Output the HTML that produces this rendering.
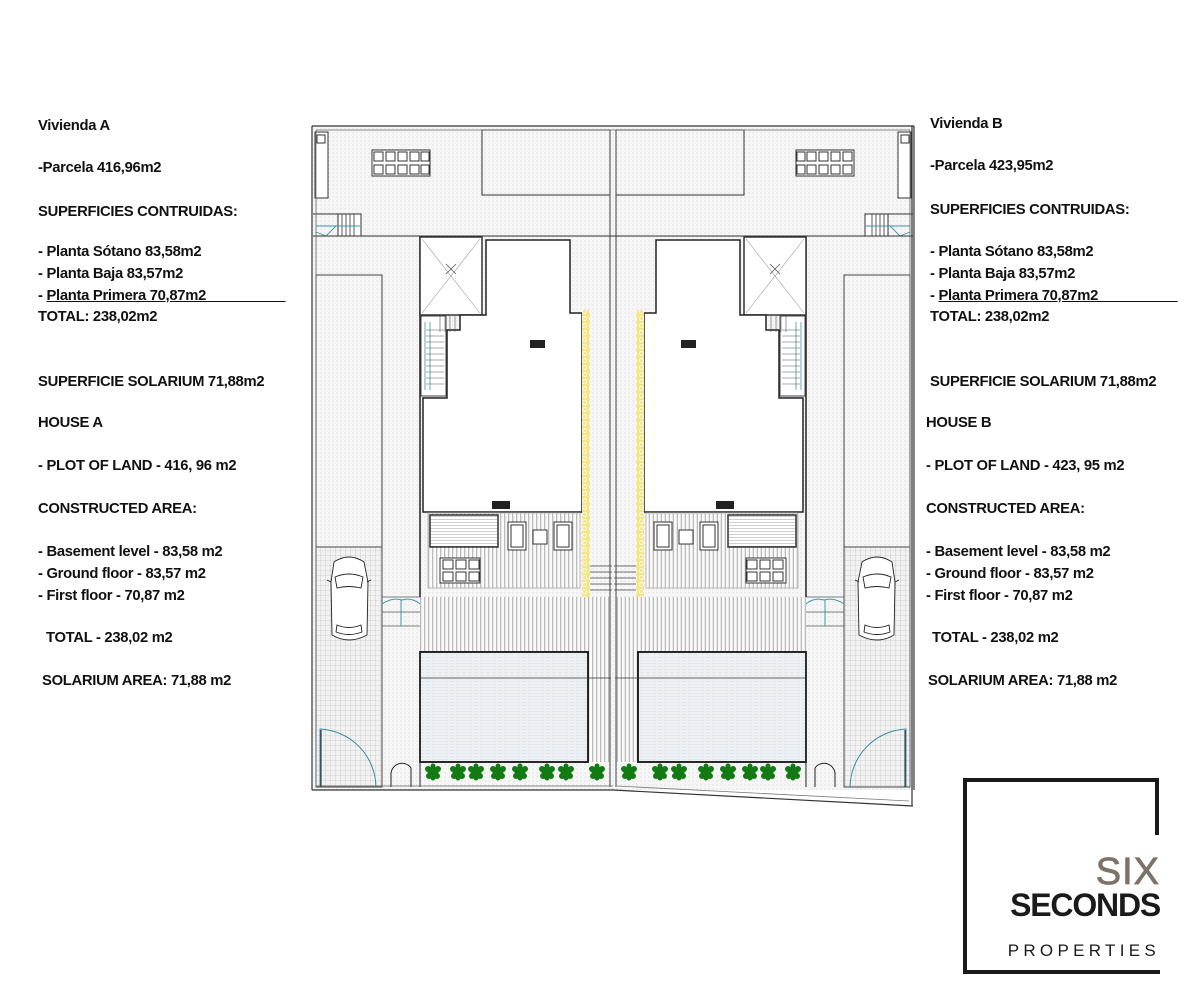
<!DOCTYPE html>
<html><head><meta charset="utf-8"><style>
body{margin:0;width:1199px;height:1005px;background:#fff;position:relative;overflow:hidden;font-family:"Liberation Sans",sans-serif}
.t{position:absolute;font-weight:bold;font-size:14.8px;color:#111;white-space:nowrap;letter-spacing:-0.3px;margin-top:2px}
svg{position:absolute;left:0;top:0}
</style></head><body>
<svg width="1199" height="1005" viewBox="0 0 1199 1005">
<defs>
<pattern id="dot" width="4" height="4" patternUnits="userSpaceOnUse"><rect width="4" height="4" fill="#f6f6f6"/><circle cx="1" cy="1" r="0.6" fill="#d8d8d8"/></pattern>
<pattern id="vs" width="4" height="4" patternUnits="userSpaceOnUse"><rect width="4" height="4" fill="#fafafa"/><rect width="1.3" height="4" fill="#bcbcbc"/></pattern>
<pattern id="grid" width="5" height="5" patternUnits="userSpaceOnUse"><rect width="5" height="5" fill="#f2f2f2"/><path d="M0 0H5M0 0V5" stroke="#b5b5b5" stroke-width="0.6"/></pattern>
<pattern id="pool" width="6" height="3" patternUnits="userSpaceOnUse"><rect width="6" height="3" fill="#eef1f4"/><path d="M0 0H4" stroke="#c7cdd4" stroke-width="0.6"/></pattern>
<pattern id="hs" width="4" height="3" patternUnits="userSpaceOnUse"><rect width="4" height="3" fill="#fff"/><path d="M0 0H4" stroke="#777" stroke-width="0.7"/></pattern>
<pattern id="yel" width="7" height="7" patternUnits="userSpaceOnUse"><rect width="7" height="7" fill="#f3e68a"/><circle cx="3.5" cy="3.5" r="2" fill="none" stroke="#fff" stroke-width="0.8"/></pattern>
<g id="tree"><g fill="#137a13"><circle cx="0" cy="0" r="5.5"/><circle cx="-5" cy="-3" r="3"/><circle cx="5" cy="-3" r="3"/><circle cx="-4" cy="4" r="3"/><circle cx="4" cy="4" r="3"/><circle cx="0" cy="-6" r="2.5"/><circle cx="0" cy="6" r="2.5"/></g></g>
<g id="half">
 <rect x="313" y="127" width="300" height="663" fill="url(#dot)"/>
 <rect x="482" y="130" width="128" height="65" fill="url(#dot)" stroke="#333" stroke-width="1"/>
 <rect x="315" y="132" width="13" height="66" fill="#fff" stroke="#333"/>
 <rect x="317" y="135" width="8" height="8" fill="none" stroke="#333"/>
 <g fill="#fff" stroke="#333" stroke-width="1">
  <rect x="372" y="150" width="58" height="26"/>
  <rect x="374" y="152" width="9" height="9"/><rect x="386" y="152" width="9" height="9"/><rect x="398" y="152" width="9" height="9"/><rect x="410" y="152" width="9" height="9"/><rect x="421" y="152" width="8" height="9"/>
  <rect x="374" y="165" width="9" height="9"/><rect x="386" y="165" width="9" height="9"/><rect x="398" y="165" width="9" height="9"/><rect x="410" y="165" width="9" height="9"/><rect x="421" y="165" width="8" height="9"/>
 </g>
 <line x1="313" y1="214" x2="361" y2="214" stroke="#333"/>
 <rect x="338" y="214" width="23" height="22" fill="#fff" stroke="#333"/>
 <path d="M342 214V236M346 214V236M350 214V236M354 214V236" stroke="#333" stroke-width="0.8"/>
 <path d="M316 226H360M316 232L326 236L336 226" stroke="#3a9aa8" fill="none" stroke-width="0.9"/>
 <line x1="313" y1="236" x2="613" y2="236" stroke="#333"/>
 <rect x="316" y="275" width="66" height="272" fill="url(#dot)" stroke="#444"/>
 <rect x="316" y="547" width="66" height="240" fill="url(#grid)" stroke="#444"/>
 <g fill="#fff" stroke="#222" stroke-width="0.9">
  <path d="M334 562Q349 552 364 562L368 582L367 635Q349 645 332 635L331 582Z"/>
  <path d="M335 577Q349 571 363 577L361 588Q349 585 337 588Z"/>
  <path d="M337 625Q349 630 361 625L362 632Q349 637 336 632Z"/>
  <path d="M331 582L327 580M367 582L371 580"/>
 </g>
 <path d="M382 597H420M382 626H420M382 612H420" stroke="#555" stroke-width="0.8"/>
 <path d="M382 604Q392 597 402 600Q412 597 420 604M401 600V626" stroke="#3a9aa8" fill="none"/>
 <path d="M320 787V729A59 59 0 0 1 376 787" stroke="#3a8ea0" fill="none" stroke-width="1"/>
 <line x1="321" y1="730" x2="321" y2="787" stroke="#222"/>
 <path d="M391 787V775A11 11 0 0 1 411 768V787" stroke="#222" fill="none"/>
 <path d="M420 236V597" stroke="#222" stroke-width="1.5"/>
 <rect x="420" y="237" width="62" height="78" fill="#fff" stroke="#333" stroke-width="1.5"/>
 <path d="M422 239L480 313M480 239L422 313" stroke="#999" stroke-width="0.6"/>
 <path d="M446 264L456 274M456 264L446 274" stroke="#555" stroke-width="0.8"/>
 <path d="M486 240H570V313H582V512H423V398H447V330H460V315H486Z" fill="#fff" stroke="#222" stroke-width="1.5"/>
 <rect x="421" y="316" width="25" height="80" fill="#fff" stroke="#444"/>
 <path d="M425 322V390M430 322V390" stroke="#3a9aa8" fill="none" stroke-width="0.8"/>
 <path d="M426 330H444M426 336H444M426 342H444M426 348H444M426 354H444M426 360H444M426 366H444M426 372H444M426 378H444M426 384H444" stroke="#555" stroke-width="0.6"/>
 <path d="M440 316V332M445 316V332M450 316V332M455 316V332" stroke="#555" stroke-width="0.6"/>
 <rect x="530" y="340" width="15" height="8" fill="#222"/>
 <rect x="492" y="501" width="18" height="8" fill="#222"/>
 <rect x="582" y="310" width="8" height="287" fill="url(#yel)"/>
 <rect x="428" y="513" width="152" height="75" fill="url(#vs)" stroke="#bbb"/>
 <rect x="430" y="515" width="68" height="32" fill="url(#hs)" stroke="#333" stroke-width="1.5"/>
 <g fill="#fff" stroke="#333"><rect x="508" y="522" width="18" height="28"/><rect x="511" y="525" width="12" height="22"/><rect x="533" y="530" width="14" height="14"/><rect x="554" y="522" width="18" height="28"/><rect x="557" y="525" width="12" height="22"/>
 <rect x="440" y="558" width="40" height="25"/><rect x="443" y="560" width="10" height="9"/><rect x="456" y="560" width="10" height="9"/><rect x="469" y="560" width="10" height="9"/><rect x="443" y="572" width="10" height="9"/><rect x="456" y="572" width="10" height="9"/><rect x="469" y="572" width="10" height="9"/></g>
 <path d="M590 566H612M590 572H612M590 578H612M590 584H612M590 590H612" stroke="#444" stroke-width="0.8"/>
 <rect x="420" y="597" width="191" height="55" fill="url(#vs)"/>
 <rect x="588" y="652" width="23" height="110" fill="url(#vs)"/>
 <rect x="420" y="652" width="168" height="110" fill="url(#pool)" stroke="#111" stroke-width="1.8"/>
 <line x1="420" y1="678" x2="611" y2="678" stroke="#333" stroke-width="0.8"/>
 <line x1="420" y1="652" x2="420" y2="787" stroke="#222"/>
 <use href="#tree" x="433" y="772"/><use href="#tree" x="458" y="772"/><use href="#tree" x="476" y="772"/><use href="#tree" x="498" y="772"/><use href="#tree" x="520" y="772"/><use href="#tree" x="547" y="772"/><use href="#tree" x="566" y="772"/><use href="#tree" x="597" y="772"/>
 <line x1="312" y1="126" x2="312" y2="790" stroke="#333" stroke-width="1.2"/>
 <line x1="316" y1="130" x2="316" y2="787" stroke="#666" stroke-width="0.8"/>
 <line x1="312" y1="126" x2="613" y2="126" stroke="#333" stroke-width="1.2"/>
 <line x1="316" y1="130" x2="613" y2="130" stroke="#666" stroke-width="0.8"/>
 <line x1="610" y1="130" x2="610" y2="787" stroke="#444"/>
</g>
</defs>
<use href="#half"/>
<use href="#half" transform="translate(1226,0) scale(-1,1)"/>
<line x1="312" y1="790" x2="613" y2="790" stroke="#333" stroke-width="1.2"/>
<line x1="316" y1="786" x2="613" y2="786" stroke="#666" stroke-width="0.8"/>
<rect x="613" y="790" width="305" height="20" fill="#fff"/>
<path d="M613 790L913 806" stroke="#333" stroke-width="1.2"/>
<path d="M617 786L909 801" stroke="#777" stroke-width="0.8"/>
<line x1="912" y1="126" x2="912" y2="806" stroke="#333" stroke-width="1.2"/>
<path d="M1157 835V780H965V972H1160" fill="none" stroke="#1a1a1a" stroke-width="4"/>
<text x="1160" y="884" text-anchor="end" font-family="Liberation Sans" font-size="38" fill="#7d7268" stroke="#7d7268" stroke-width="0.8" letter-spacing="1">SIX</text>
<text x="1160" y="916" text-anchor="end" font-family="Liberation Sans" font-weight="bold" font-size="32" fill="#1a1a1a" letter-spacing="-1.2">SECONDS</text>
<text x="1160" y="956" text-anchor="end" font-family="Liberation Sans" font-size="17" fill="#1a1a1a" letter-spacing="4.3">PROPERTIES</text>
</svg>
<div class="t" style="left:38px;top:116px">Vivienda A</div>
<div class="t" style="left:38px;top:158px">-Parcela 416,96m2</div>
<div class="t" style="left:38px;top:202px">SUPERFICIES CONTRUIDAS:</div>
<div class="t" style="left:38px;top:242px">- Planta Sótano 83,58m2</div>
<div class="t" style="left:38px;top:264px">- Planta Baja 83,57m2</div>
<div class="t" style="left:38px;top:286px">- <u>Planta Primera 70,87m2__________</u></div>
<div class="t" style="left:38px;top:307px">TOTAL: 238,02m2</div>
<div class="t" style="left:38px;top:372px">SUPERFICIE SOLARIUM 71,88m2</div>
<div class="t" style="left:38px;top:413px">HOUSE A</div>
<div class="t" style="left:38px;top:456px">- PLOT OF LAND - 416, 96 m2</div>
<div class="t" style="left:38px;top:499px">CONSTRUCTED AREA:</div>
<div class="t" style="left:38px;top:542px">- Basement level - 83,58 m2</div>
<div class="t" style="left:38px;top:564px">- Ground floor - 83,57 m2</div>
<div class="t" style="left:38px;top:586px">- First floor - 70,87 m2</div>
<div class="t" style="left:46px;top:628px">TOTAL - 238,02 m2</div>
<div class="t" style="left:42px;top:671px">SOLARIUM AREA: 71,88 m2</div>

<div class="t" style="left:930px;top:114px">Vivienda B</div>
<div class="t" style="left:930px;top:156px">-Parcela 423,95m2</div>
<div class="t" style="left:930px;top:200px">SUPERFICIES CONTRUIDAS:</div>
<div class="t" style="left:930px;top:242px">- Planta Sótano 83,58m2</div>
<div class="t" style="left:930px;top:264px">- Planta Baja 83,57m2</div>
<div class="t" style="left:930px;top:286px">- <u>Planta Primera 70,87m2__________</u></div>
<div class="t" style="left:930px;top:307px">TOTAL: 238,02m2</div>
<div class="t" style="left:930px;top:372px">SUPERFICIE SOLARIUM 71,88m2</div>
<div class="t" style="left:926px;top:413px">HOUSE B</div>
<div class="t" style="left:926px;top:456px">- PLOT OF LAND - 423, 95 m2</div>
<div class="t" style="left:926px;top:499px">CONSTRUCTED AREA:</div>
<div class="t" style="left:926px;top:542px">- Basement level - 83,58 m2</div>
<div class="t" style="left:926px;top:564px">- Ground floor - 83,57 m2</div>
<div class="t" style="left:926px;top:586px">- First floor - 70,87 m2</div>
<div class="t" style="left:932px;top:628px">TOTAL - 238,02 m2</div>
<div class="t" style="left:928px;top:671px">SOLARIUM AREA: 71,88 m2</div>
</body></html>
